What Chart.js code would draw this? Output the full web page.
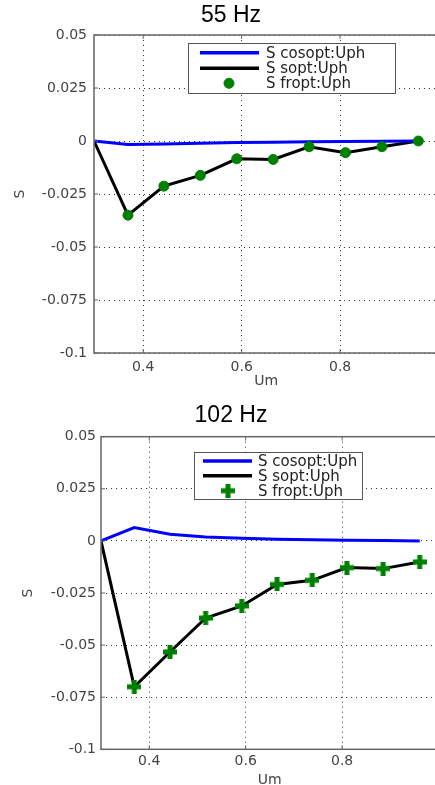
<!DOCTYPE html>
<html>
<head>
<meta charset="utf-8">
<script src="https://cdn.jsdelivr.net/npm/chart.js@4.4.1/dist/chart.umd.min.js"></script>
<style>
  body { margin: 0; overflow: hidden; background: #fff; }
  .box { position: absolute; left: 0; }
</style>
</head>
<body>
<div class="box" style="top:0px"><canvas id="chart55" width="449" height="392"></canvas></div>
<div class="box" style="top:392px"><canvas id="chart102" width="447" height="400"></canvas></div>
<script>
// 55 Hz
var um55 = [0.3, 0.369, 0.442, 0.516, 0.590, 0.664, 0.737, 0.811, 0.885, 0.959];
var cosopt55 = [0, -0.0017, -0.0014, -0.0011, -0.0007, -0.0006, -0.0003, -0.0002, -0.0001, 0];
var sopt55 = [0, -0.035, -0.0213, -0.0162, -0.0084, -0.0087, -0.0027, -0.0055, -0.0027, 0];
var fropt55 = [null, -0.035, -0.0213, -0.0162, -0.0084, -0.0087, -0.0027, -0.0055, -0.0027, 0];

// 102 Hz
var um102 = [0.3, 0.369, 0.443, 0.517, 0.592, 0.665, 0.738, 0.810, 0.885, 0.961];
var cosopt102 = [0, 0.0064, 0.0032, 0.0019, 0.0013, 0.0008, 0.0005, 0.0003, 0.0002, 0];
var sopt102 = [0, -0.070, -0.0533, -0.037, -0.0312, -0.0209, -0.0189, -0.0128, -0.0133, -0.0101];
var fropt102 = [null, -0.070, -0.0533, -0.037, -0.0312, -0.0209, -0.0189, -0.0128, -0.0133, -0.0101];

var seriesNames = ['S cosopt:Uph', 'S sopt:Uph', 'S fropt:Uph'];
var xTicks = [0.4, 0.6, 0.8, 1];
var yTicks = [0.05, 0.025, 0, -0.025, -0.05, -0.075, -0.1];

Chart.defaults.font.family = 'DejaVu Sans';
Chart.defaults.font.size = 14;
Chart.defaults.color = '#444';

// thick green plus for the 102 Hz markers
var plus = document.createElement('canvas');
plus.width = 14; plus.height = 14;
var pc = plus.getContext('2d');
pc.fillStyle = '#008000';
pc.fillRect(0, 4.5, 14, 5);
pc.fillRect(4.5, 0, 5, 14);

function pts(xs, ys) {
	return xs.map(function (x, i) { return { x: x, y: ys[i] }; });
}

// box round the plot area + matlab style legend
var boxPlugin = {
	id: 'box',
	afterDatasetsDraw: function (chart, args, o) {
		var ctx = chart.ctx, a = chart.chartArea;
		ctx.save();
		ctx.strokeStyle = '#666';
		ctx.lineWidth = 1.5;
		ctx.strokeRect(a.left, a.top, a.right - a.left, a.bottom - a.top);
		ctx.lineWidth = 1;
		xTicks.forEach(function (v) {
			var px = chart.scales.x.getPixelForValue(v);
			ctx.beginPath();
			ctx.moveTo(px, a.bottom); ctx.lineTo(px, a.bottom - 4);
			ctx.moveTo(px, a.top); ctx.lineTo(px, a.top + 4);
			ctx.stroke();
		});
		yTicks.forEach(function (v) {
			var py = chart.scales.y.getPixelForValue(v);
			ctx.beginPath();
			ctx.moveTo(a.left, py); ctx.lineTo(a.left + 4, py);
			ctx.stroke();
		});

		var L = o.legend;
		ctx.fillStyle = '#fff';
		ctx.fillRect(L.x, L.y, L.w, L.h);
		ctx.strokeStyle = '#555';
		ctx.strokeRect(L.x + 0.5, L.y + 0.5, L.w, L.h);
		var ds = chart.data.datasets;
		ctx.font = '15px "DejaVu Sans"';
		ctx.textBaseline = 'middle';
		for (var i = 0; i < ds.length; i++) {
			var ry = L.rows[i];
			if (ds[i].showLine !== false) {
				ctx.strokeStyle = ds[i].borderColor;
				ctx.lineWidth = 3.5;
				ctx.beginPath();
				ctx.moveTo(L.lx0, ry); ctx.lineTo(L.lx1, ry);
				ctx.stroke();
			} else {
				ctx.fillStyle = ds[i].backgroundColor;
				ctx.strokeStyle = ds[i].borderColor;
				ctx.lineWidth = 1;
				Chart.helpers.drawPoint(ctx, {
					pointStyle: ds[i].pointStyle, radius: ds[i].pointRadius, rotation: 0,
					borderWidth: 1
				}, L.mx, ry);
			}
			ctx.fillStyle = '#222';
			ctx.fillText(ds[i].label, L.tx, ry + 1);
		}
		ctx.restore();
	}
};

function makeChart(id, title, xs, cos, sopt, fropt, marker, lay) {
	var ctx = document.getElementById(id).getContext('2d');
	return new Chart(ctx, {
		type: 'line',
		data: {
			datasets: [{
				label: seriesNames[0],
				data: pts(xs, cos),
				borderColor: '#0000ff',
				borderWidth: 3,
				pointRadius: 0,
				tension: 0,
				order: 1
			}, {
				label: seriesNames[1],
				data: pts(xs, sopt),
				borderColor: '#000',
				borderWidth: 3,
				pointRadius: 0,
				tension: 0,
				order: 2
			}, {
				label: seriesNames[2],
				data: pts(xs, fropt),
				showLine: false,
				pointStyle: marker,
				pointRadius: 5,
				backgroundColor: '#008000',
				borderColor: '#008000',
				borderWidth: 1,
				order: 0
			}]
		},
		plugins: [boxPlugin],
		options: {
			responsive: false,
			animation: false,
			layout: { padding: { left: lay.padLeft, right: 3, top: 0, bottom: 0 } },
			plugins: {
				legend: { display: false },
				tooltip: { enabled: false },
				title: {
					display: true,
					text: title,
					color: '#000',
					font: { family: 'Liberation Sans', size: 23, weight: 'normal' },
					padding: lay.titlePad
				},
				box: { legend: lay.legend }
			},
			scales: {
				x: {
					type: 'linear',
					min: 0.3,
					max: 1,
					afterBuildTicks: function (s) { s.ticks = xTicks.map(function (v) { return { value: v }; }); },
					afterFit: function (s) { s.height = lay.xHeight; },
					grid: { color: '#333', lineWidth: 1, drawTicks: false },
					border: { display: false, dash: [1, 4] },
					ticks: { padding: lay.xPad, maxRotation: 0, callback: function (v) { return String(v); } },
					title: { display: true, text: 'Um', padding: { top: 0, bottom: lay.umPad } }
				},
				y: {
					min: -0.1,
					max: 0.05,
					afterBuildTicks: function (s) { s.ticks = yTicks.map(function (v) { return { value: v }; }); },
					afterFit: function (s) { s.width = lay.yWidth; },
					grid: { color: '#333', lineWidth: 1, drawTicks: false },
					border: { display: false, dash: [1, 4] },
					ticks: { padding: lay.yPad, callback: function (v) { return String(+v.toFixed(3)); } },
					title: { display: true, text: 'S', padding: { top: lay.sPad, bottom: 0 } }
				}
			}
		}
	});
}

makeChart('chart55', '55 Hz', um55, cosopt55, sopt55, fropt55, 'circle', {
	padLeft: 16,
	titlePad: { top: 1.7, bottom: 5.7 },
	xHeight: 39, xPad: 6, umPad: 2.6,
	yWidth: 78, yPad: 7, sPad: -4.4,
	legend: { x: 188, y: 43, w: 207, h: 50, rows: [52.7, 68.3, 83.3], lx0: 200, lx1: 259, mx: 229, tx: 266 }
});

makeChart('chart102', '102 Hz', um102, cosopt102, sopt102, fropt102, plus, {
	padLeft: 18,
	titlePad: { top: 9.5, bottom: 7.6 },
	xHeight: 42.7, xPad: 4, umPad: 3.6,
	yWidth: 83, yPad: 5, sPad: 1.6,
	legend: { x: 194, y: 60, w: 168, h: 47, rows: [69, 83.7, 98.7], lx0: 203, lx1: 252, mx: 228, tx: 258 }
});
</script>
</body>
</html>
